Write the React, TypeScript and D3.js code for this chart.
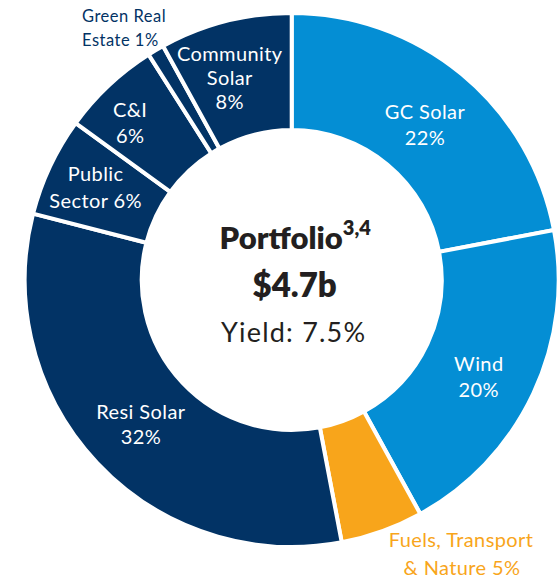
import React from "react";
import * as d3 from "d3";

const categories = [
  "GC Solar",
  "Wind",
  "Fuels, Transport & Nature",
  "Resi Solar",
  "Public Sector",
  "C&I",
  "Green Real Estate",
  "Community Solar",
];
const values = [22, 20, 5, 32, 6, 6, 1, 8];
const labelLines = [
  ["GC Solar", "22%"],
  ["Wind", "20%"],
  ["Fuels, Transport", "& Nature 5%"],
  ["Resi Solar", "32%"],
  ["Public", "Sector 6%"],
  ["C&I", "6%"],
  ["Green Real", "Estate 1%"],
  ["Community", "Solar", "8%"],
];
const centerTitle = "Portfolio";
const centerSup = "3,4";
const centerValue = "$4.7b";
const centerYield = "Yield: 7.5%";

const NAVY = "#023365";
const BLUE = "#048ED4";
const ORANGE = "#F8A51B";
const colors = [BLUE, BLUE, ORANGE, NAVY, NAVY, NAVY, NAVY, NAVY];

// layout: label offsets from arc centroid, or outside placement
const labelOffsets: ([number, number] | null)[] = [
  [0, 6],
  [-2, 8],
  null,
  [1.5, 1.5],
  [-7, -4],
  [-18.5, -4.5],
  null,
  [-10, 0.5],
];

const W = 559;
const H = 581;
const CX = 291.7;
const CY = 280;
const R_OUT = 267;
const R_IN = 150;
const FONT = "Lato, 'Noto Sans', sans-serif";

export default function App() {
  const pie = d3
    .pie<number>()
    .sort(null)
    .value((d) => d)(values);
  const arc = d3.arc<d3.PieArcDatum<number>>().innerRadius(R_IN).outerRadius(R_OUT);
  const labelArc = d3
    .arc<d3.PieArcDatum<number>>()
    .innerRadius((R_IN + R_OUT) / 2 + 0.5)
    .outerRadius((R_IN + R_OUT) / 2 + 0.5);

  return (
    <svg
      width={W}
      height={H}
      style={{ position: "absolute", left: 0, top: 0, background: "#fff" }}
      fontFamily={FONT}
    >
      <g transform={`translate(${CX},${CY})`}>
        {pie.map((p, i) => (
          <path
            key={categories[i]}
            d={arc(p) || ""}
            fill={colors[i]}
            stroke="#fff"
            strokeWidth={4}
            strokeLinejoin="miter"
          />
        ))}
        {pie.map((p, i) => {
          const off = labelOffsets[i];
          if (!off) return null;
          const [cx, cy] = labelArc.centroid(p);
          const lines = labelLines[i];
          const lh = i === 4 ? 27 : i === 7 ? 24 : 25.5;
          const top = cy + off[1] - ((lines.length - 1) * lh) / 2;
          return (
            <text
              key={"l" + i}
              textAnchor="middle"
              fill="#fff"
              fontSize={20}
              letterSpacing={0.4}
            >
              {lines.map((ln, j) => (
                <tspan key={j} x={cx + off[0]} y={top + j * lh + 7}>
                  {ln}
                </tspan>
              ))}
            </text>
          );
        })}
      </g>
      {/* Outside labels */}
      <text textAnchor="middle" fill={ORANGE} fontSize={20} letterSpacing={0.4}>
        <tspan x={461} y={547}>
          {labelLines[2][0]}
        </tspan>
        <tspan x={462} y={575}>
          {labelLines[2][1]}
        </tspan>
      </text>
      <text textAnchor="start" fill={NAVY} fontSize={16.5} letterSpacing={0.5}>
        <tspan x={82} y={22}>
          {labelLines[6][0]}
        </tspan>
        <tspan x={82} y={46}>
          {labelLines[6][1]}
        </tspan>
      </text>
      {/* Center text */}
      <text textAnchor="middle" fill="#231F20">
        <tspan x={CX + 3.5} y={249} fontSize={31} fontWeight={800}>
          {centerTitle}
          <tspan fontSize={20} dy={-14}>
            {centerSup}
          </tspan>
        </tspan>
        <tspan x={CX + 3} y={297} fontSize={33} fontWeight={800}>
          {centerValue}
        </tspan>
        <tspan x={CX + 2} y={342} fontSize={27} letterSpacing={1.2}>
          {centerYield}
        </tspan>
      </text>
    </svg>
  );
}
